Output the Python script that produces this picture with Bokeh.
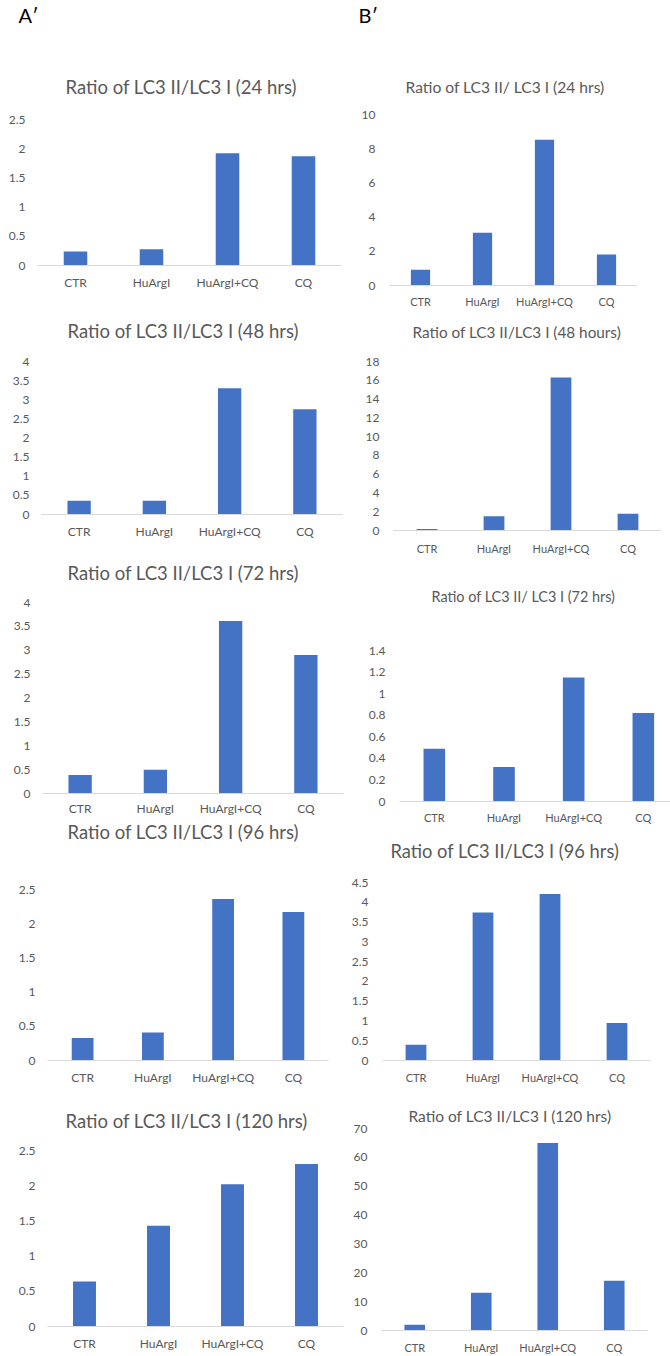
from bokeh.plotting import figure
from bokeh.models import Range1d, FixedTicker, Title, NumeralTickFormatter
from bokeh.layouts import row, column
from bokeh.embed import file_html
from bokeh.resources import INLINE

categories = ["CTR", "HuArgI", "HuArgI+CQ", "CQ"]

# Column A' values
a24_values = [0.24, 0.28, 1.92, 1.87]
a48_values = [0.36, 0.36, 3.30, 2.75]
a72_values = [0.39, 0.50, 3.61, 2.90]
a96_values = [0.33, 0.41, 2.36, 2.17]
a120_values = [0.64, 1.43, 2.02, 2.31]

# Column B' values
b24_values = [0.92, 3.08, 8.52, 1.81]
b48_values = [0.15, 1.53, 16.3, 1.78]
b72_values = [0.49, 0.32, 1.15, 0.82]
b96_values = [0.40, 3.74, 4.21, 0.95]
b120_values = [1.95, 13.1, 65.0, 17.2]

# y tick values
a24_ticks = [0, 0.5, 1, 1.5, 2, 2.5]
a48_ticks = [0, 0.5, 1, 1.5, 2, 2.5, 3, 3.5, 4]
a72_ticks = [0, 0.5, 1, 1.5, 2, 2.5, 3, 3.5, 4]
a96_ticks = [0, 0.5, 1, 1.5, 2, 2.5]
a120_ticks = [0, 0.5, 1, 1.5, 2, 2.5]
b24_ticks = [0, 2, 4, 6, 8, 10]
b48_ticks = [0, 2, 4, 6, 8, 10, 12, 14, 16, 18]
b72_ticks = [0, 0.2, 0.4, 0.6, 0.8, 1, 1.2, 1.4]
b96_ticks = [0, 0.5, 1, 1.5, 2, 2.5, 3, 3.5, 4, 4.5]
b120_ticks = [0, 10, 20, 30, 40, 50, 60, 70]

a24_title = "Ratio of LC3 II/LC3 I (24 hrs)"
a48_title = "Ratio of LC3 II/LC3 I (48 hrs)"
a72_title = "Ratio of LC3 II/LC3 I (72 hrs)"
a96_title = "Ratio of LC3 II/LC3 I (96 hrs)"
a120_title = "Ratio of LC3 II/LC3 I (120 hrs)"
b24_title = "Ratio of LC3 II/ LC3 I (24 hrs)"
b48_title = "Ratio of LC3 II/LC3 I (48 hours)"
b72_title = "Ratio of LC3 II/ LC3 I (72 hrs)"
b96_title = "Ratio of LC3 II/LC3 I (96 hrs)"
b120_title = "Ratio of LC3 II/LC3 I (120 hrs)"

BAR = "#4472C4"
GREY = "#595959"
AXIS = "#D9D9D9"
FONT = "Lato"


def spacer(gap):
    return Title(text=" ", text_font_size="1px", standoff=gap, text_color="white")


def style_title(t, size, off, color=GREY):
    t.text_font = FONT
    t.text_font_size = size
    t.text_font_style = "normal"
    t.text_color = color
    t.align = "left"
    t.offset = off
    t.standoff = 0


def panel(values, ticks, title, w, h, mbl, mbr, mbt, mbb, tsize, toff, gap,
          xend=None, letter=None, loff=0, lgap=0, cat_size="12px", xstand=9, ystand=12):
    n = len(categories)
    xs = list(range(n))
    p = figure(width=w, height=h,
               x_range=Range1d(-0.5, xend if xend is not None else n - 0.5),
               y_range=Range1d(0, ticks[-1]),
               output_backend="svg", toolbar_location=None,
               min_border_left=mbl, min_border_right=mbr,
               min_border_top=mbt, min_border_bottom=mbb)
    if "frame_align" in p.properties():
        p.frame_align = False
    p.vbar(x=xs, top=values, width=0.31, color=BAR, line_color=None)
    if letter is None:
        p.title.text = title
        style_title(p.title, tsize, toff)
        p.add_layout(spacer(gap), "above")
    else:
        p.title.text = letter
        style_title(p.title, "20px", loff, color="black")
        p.add_layout(spacer(gap), "above")
        t = Title(text=title)
        style_title(t, tsize, toff)
        p.add_layout(t, "above")
        p.add_layout(spacer(lgap), "above")
    p.xgrid.visible = False
    p.ygrid.visible = False
    p.outline_line_color = None
    xa = p.xaxis[0]
    xa.ticker = FixedTicker(ticks=xs)
    xa.major_label_overrides = {i: c for i, c in enumerate(categories)}
    xa.axis_line_color = AXIS
    xa.axis_line_width = 1
    xa.major_tick_line_color = None
    xa.minor_tick_line_color = None
    xa.major_tick_out = 0
    xa.major_tick_in = 0
    xa.minor_tick_out = 0
    xa.major_label_text_font = FONT
    xa.major_label_text_font_size = cat_size
    xa.major_label_text_color = GREY
    xa.major_label_standoff = xstand
    ya = p.yaxis[0]
    ya.ticker = FixedTicker(ticks=ticks)
    ya.formatter = NumeralTickFormatter(format="0.[0]")
    ya.axis_line_color = None
    ya.major_tick_line_color = None
    ya.minor_tick_line_color = None
    ya.major_tick_out = 0
    ya.major_tick_in = 0
    ya.minor_tick_out = 0
    ya.major_label_text_font = FONT
    ya.major_label_text_font_size = "12px"
    ya.major_label_text_color = GREY
    ya.major_label_standoff = ystand
    return p


A = [
    panel(a24_values, a24_ticks, a24_title, 344, 300, 37, 3, 118, 35, "18.5px", 28, 19,
          letter="A\u2032", loff=-19, lgap=44),
    panel(a48_values, a48_ticks, a48_title, 344, 253, 41, 2, 61, 39, "18.5px", 26, 17),
    panel(a72_values, a72_ticks, a72_title, 344, 265, 42, 1, 49, 22, "18.5px", 25, 16,
          xstand=7),
    panel(a96_values, a96_ticks, a96_title, 344, 282, 47, 16, 65, 40, "18.5px", 20, 44),
    panel(a120_values, a120_ticks, a120_title, 344, 256, 47, 1, 50, 30, "18.5px", 18, 16),
]
B = [
    panel(b24_values, b24_ticks, b24_title, 326, 312, 45, 33, 114, 27, "15.6px", 16, 16,
          letter="B\u2032", loff=-31, lgap=46, cat_size="11px", xstand=9, ystand=14),
    panel(b48_values, b48_ticks, b48_title, 326, 253, 49, 9, 49, 35, "15.3px", 19, 18,
          cat_size="11px", xstand=11, ystand=14),
    panel(b72_values, b72_ticks, b72_title, 326, 270, 55, 0, 85, 34, "14.4px", 32, 43,
          xend=3.39, cat_size="11px", xstand=9, ystand=14),
    panel(b96_values, b96_ticks, b96_title, 326, 265, 38, 20, 47, 40, "18.3px", 8, 18,
          cat_size="11px", xstand=10, ystand=14),
    panel(b120_values, b120_ticks, b120_title, 326, 256, 37, 23, 28, 24, "15.5px", 27, 1,
          cat_size="11px", xstand=10, ystand=14),
]

layout = row(column(*A), column(*B))
open("out.html", "w").write(file_html(layout, INLINE))
